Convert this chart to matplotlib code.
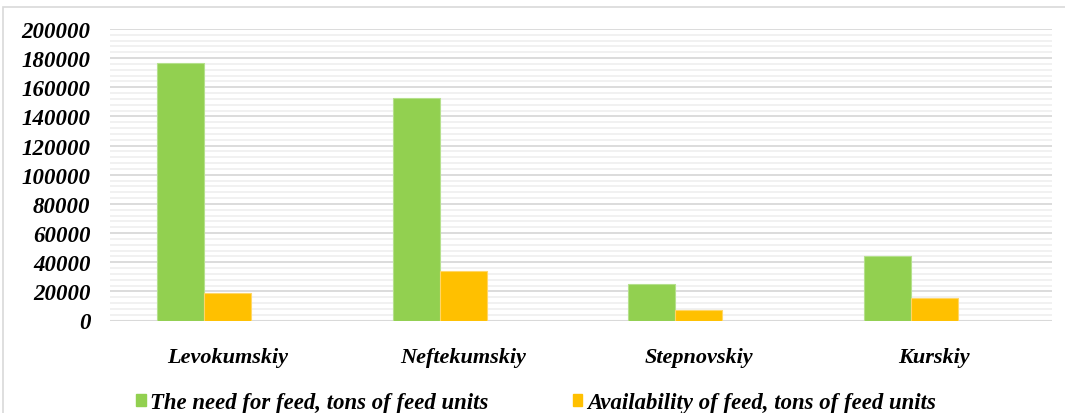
import numpy as np
import matplotlib.pyplot as plt
from matplotlib.patches import Rectangle, Patch

# feed balance by district, tons of feed units
districts = ["Levokumskiy", "Neftekumskiy", "Stepnovskiy", "Kurskiy"]
feed_need = [177000, 153000, 25000, 44300]
feed_available = [18700, 34000, 7500, 15500]
y_ticks = [0, 20000, 40000, 60000, 80000, 100000, 120000, 140000, 160000, 180000, 200000]

need_label = "The need for feed, tons of feed units"
avail_label = "Availability of feed, tons of feed units"

green = "#92d050"
orange = "#ffc000"

plt.rcParams['font.family'] = ['Liberation Serif', 'DejaVu Serif']

W, H = 1065, 414
fig = plt.figure(figsize=(W / 100, H / 100), dpi=100)
fig.patch.set_facecolor("white")

# outer frame of the chart area
fig.patches.append(Rectangle((3 / W, -0.2), 1.2, (H - 8) / H + 0.2,
                             transform=fig.transFigure, fill=False,
                             edgecolor="#d9d9d9", lw=1.2, zorder=0))

ax = fig.add_axes([110 / W, (H - 321.5) / H, (1052 - 110) / W, (321.5 - 30) / H])

x = np.arange(len(districts))
w = 0.2
ax.bar(x - 0.2, feed_need, w, color=green, edgecolor="#b5e08c", lw=0.8, zorder=3)
ax.bar(x, feed_available, w, color=orange, edgecolor="#ffd666", lw=0.8, zorder=3)

ax.set_yticks(y_ticks)
ax.set_yticklabels([str(v) for v in y_ticks], weight="bold", style="italic", size=16.5)
ax.set_yticks(np.arange(0, 200001, 4000), minor=True)
ax.set_xlim(-0.5, len(districts) - 0.5)
ax.set_ylim(0, 200000)
ax.grid(axis="y", which="major", color="#d9d9d9", lw=1.3, zorder=1)
ax.grid(axis="y", which="minor", color="#f0f0f0", lw=1.3, zorder=0)
ax.axhline(0, color="#d9d9d9", lw=1.5, zorder=2)

for s in ax.spines.values():
    s.set_visible(False)
ax.tick_params(axis="both", which="both", length=0)
ax.tick_params(axis="y", pad=14)
ax.tick_params(axis="x", pad=19)
ax.set_xticks(x)
ax.set_xticklabels(districts, weight="bold", style="italic", size=16)

handles = [Patch(color=green, label=need_label), Patch(color=orange, label=avail_label)]
fig.legend(handles=handles, loc="center", bbox_to_anchor=(536 / W, 10 / H), ncol=2,
           frameon=False, prop=dict(family="Liberation Serif", weight="bold", style="italic", size=16.4),
           handlelength=0.42, handleheight=0.42, handletextpad=0.2, columnspacing=3.7,
           borderaxespad=0, borderpad=0)

fig.savefig("out.png", dpi=100)
